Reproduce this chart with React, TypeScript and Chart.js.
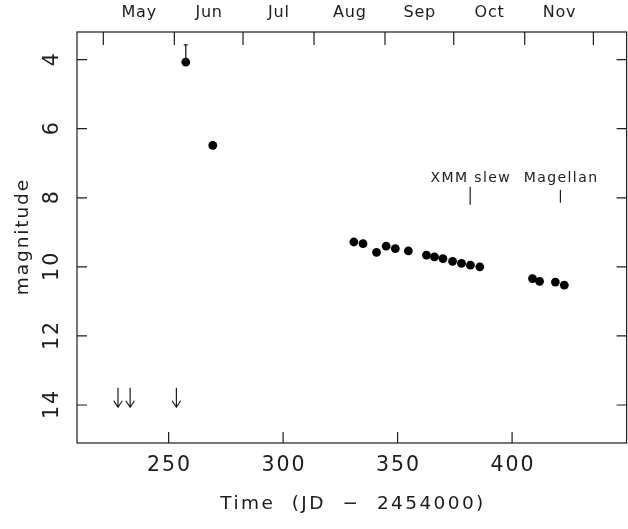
import { useEffect, useRef } from "react";
import { Chart, registerables } from "chart.js";

Chart.register(...registerables);

// tick values
const X_TICKS = [250, 300, 350, 400];
const Y_TICKS = [4, 6, 8, 10, 12, 14];

// top axis: calendar months (JD - 2454000 of the 1st of each month)
const MONTHS = ["May", "Jun", "Jul", "Aug", "Sep", "Oct", "Nov"];
const MONTH_STARTS = [221.5, 252.5, 282.5, 313.5, 344.5, 374.5, 405.5, 435.5];

// detections
const DET_JD = [
  257.5, 269.3, 330.9, 334.9, 340.8, 345.0, 349.0, 354.7, 362.6, 366.1,
  369.8, 374.0, 377.9, 381.8, 385.9, 408.9, 412.0, 418.9, 422.8,
];
const DET_MAG = [
  4.07, 6.48, 9.28, 9.33, 9.58, 9.4, 9.47, 9.54, 9.66, 9.71,
  9.76, 9.84, 9.9, 9.95, 10.0, 10.34, 10.42, 10.44, 10.53,
];
// upper (brighter-side) error, only the first point has one drawn
const DET_ERR = [0.5, 0, 0, 0, 0, 0, 0, 0, 0, 0, 0, 0, 0, 0, 0, 0, 0, 0, 0];

// upper limits (arrows)
const LIMIT_JD = [227.9, 233.2, 253.4];
const LIMIT_MAG = [13.5, 13.5, 13.5];

// annotations
const NOTE_LABELS = ["XMM slew", "Magellan"];
const NOTE_JD = [381.7, 421.1];
const NOTE_MAG = 8;

const FONT = '"DejaVu Sans", sans-serif';
const INK = "#1c1c1c";

function spacedText(
  ctx: CanvasRenderingContext2D,
  text: string,
  x: number,
  y: number,
  size: number,
  spacing: number,
  angle = 0
) {
  ctx.save();
  ctx.font = `${size}px ${FONT}`;
  (ctx as any).letterSpacing = `${spacing}px`;
  ctx.fillStyle = INK;
  ctx.textAlign = "left";
  ctx.textBaseline = "alphabetic";
  const w = ctx.measureText(text).width - spacing;
  ctx.translate(x, y);
  if (angle) ctx.rotate(angle);
  ctx.fillText(text, -w / 2, 0);
  ctx.restore();
}

const framePlugin = {
  id: "pgplotFrame",
  afterDatasetsDraw(chart: any) {
    const { ctx, chartArea: a } = chart;
    const x = chart.scales.x;
    const y = chart.scales.y;

    ctx.save();
    ctx.strokeStyle = INK;
    ctx.lineWidth = 1.2;
    ctx.strokeRect(a.left, a.top, a.right - a.left, a.bottom - a.top);

    ctx.beginPath();
    x.ticks.forEach((t: any) => {
      const px = x.getPixelForValue(t.value);
      ctx.moveTo(px, a.bottom);
      ctx.lineTo(px, a.bottom - 11);
    });
    MONTH_STARTS.forEach((v) => {
      const px = x.getPixelForValue(v);
      ctx.moveTo(px, a.top);
      ctx.lineTo(px, a.top + 13);
    });
    y.ticks.forEach((t: any) => {
      const py = y.getPixelForValue(t.value);
      ctx.moveTo(a.left, py);
      ctx.lineTo(a.left + 10, py);
      ctx.moveTo(a.right, py);
      ctx.lineTo(a.right - 10, py);
    });
    ctx.stroke();

    // error bars
    const det = chart.getDatasetMeta(0);
    ctx.lineWidth = 1.3;
    ctx.beginPath();
    det.data.forEach((p: any, i: number) => {
      if (!DET_ERR[i]) return;
      const top = y.getPixelForValue(DET_MAG[i] - DET_ERR[i]);
      ctx.moveTo(p.x, p.y);
      ctx.lineTo(p.x, top);
      ctx.moveTo(p.x - 2, top);
      ctx.lineTo(p.x + 2, top);
    });
    ctx.stroke();

    // upper-limit arrows
    const lim = chart.getDatasetMeta(1);
    ctx.lineWidth = 1.2;
    ctx.beginPath();
    lim.data.forEach((p: any) => {
      const tip = p.y + 19.5;
      ctx.moveTo(p.x, p.y);
      ctx.lineTo(p.x, tip);
      ctx.moveTo(p.x - 4.3, tip - 6.5);
      ctx.lineTo(p.x, tip);
      ctx.lineTo(p.x + 4.3, tip - 6.5);
    });
    ctx.stroke();

    // annotation marks
    const marks = [
      [-11, 7],
      [-8, 5],
    ];
    const base = y.getPixelForValue(NOTE_MAG);
    ctx.beginPath();
    NOTE_JD.forEach((v, i) => {
      const px = x.getPixelForValue(v);
      ctx.moveTo(px, base + marks[i][0]);
      ctx.lineTo(px, base + marks[i][1]);
    });
    ctx.stroke();
    ctx.restore();

    NOTE_LABELS.forEach((s, i) => {
      spacedText(ctx, s, x.getPixelForValue(NOTE_JD[i]), base - 16, 14, 1.4);
    });

    // bottom tick labels
    x.ticks.forEach((t: any) => {
      spacedText(ctx, String(t.value), x.getPixelForValue(t.value), a.bottom + 27.5, 20.5, 2);
    });
    // month labels
    MONTHS.forEach((m, i) => {
      const mid = (MONTH_STARTS[i] + MONTH_STARTS[i + 1]) / 2;
      spacedText(ctx, m, x.getPixelForValue(mid), 17, 16, 0.8);
    });
    // left tick labels (rotated)
    y.ticks.forEach((t: any) => {
      spacedText(ctx, String(t.value), a.left - 19, y.getPixelForValue(t.value), 20.5, 2, -Math.PI / 2);
    });

    // axis titles
    spacedText(ctx, "Time  (JD  \u2212  2454000)", (a.left + a.right) / 2, a.bottom + 65.5, 18.5, 2.4);
    spacedText(ctx, "magnitude", 27.5, (a.top + a.bottom) / 2, 18.5, 1.9, -Math.PI / 2);
  },
};

export default function App() {
  const canvasRef = useRef<HTMLCanvasElement>(null);
  const chartRef = useRef<Chart | null>(null);

  useEffect(() => {
    if (!canvasRef.current) return;
    if (chartRef.current) chartRef.current.destroy();

    chartRef.current = new Chart(canvasRef.current, {
      type: "scatter",
      data: {
        datasets: [
          {
            label: "detections",
            data: DET_JD.map((jd, i) => ({ x: jd, y: DET_MAG[i] })),
            pointRadius: 4.4,
            pointBackgroundColor: "#000",
            pointBorderWidth: 0,
          },
          {
            label: "upper limits",
            data: LIMIT_JD.map((jd, i) => ({ x: jd, y: LIMIT_MAG[i] })),
            pointRadius: 0,
            pointBorderWidth: 0,
          },
        ],
      },
      options: {
        animation: false,
        responsive: false,
        events: [],
        layout: { padding: { left: 77, top: 32, right: 0, bottom: 86 } },
        plugins: {
          legend: { display: false },
          tooltip: { enabled: false },
        },
        scales: {
          x: {
            type: "linear",
            min: 210,
            max: 450,
            grid: { display: false, drawTicks: false },
            border: { display: false },
            ticks: { display: false },
            afterBuildTicks: (s: any) => {
              s.ticks = X_TICKS.map((value) => ({ value }));
            },
          },
          y: {
            type: "linear",
            reverse: true,
            min: 3.2,
            max: 15.1,
            grid: { display: false, drawTicks: false },
            border: { display: false },
            ticks: { display: false },
            afterBuildTicks: (s: any) => {
              s.ticks = Y_TICKS.map((value) => ({ value }));
            },
          },
        },
      },
      plugins: [framePlugin],
    });

    return () => {
      if (chartRef.current) {
        chartRef.current.destroy();
        chartRef.current = null;
      }
    };
  }, []);

  return (
    <div
      style={{
        position: "absolute",
        left: 0,
        top: 0,
        width: 628,
        height: 529,
        overflow: "hidden",
        background: "#fff",
      }}
    >
      <canvas ref={canvasRef} width={631} height={529} />
    </div>
  );
}
